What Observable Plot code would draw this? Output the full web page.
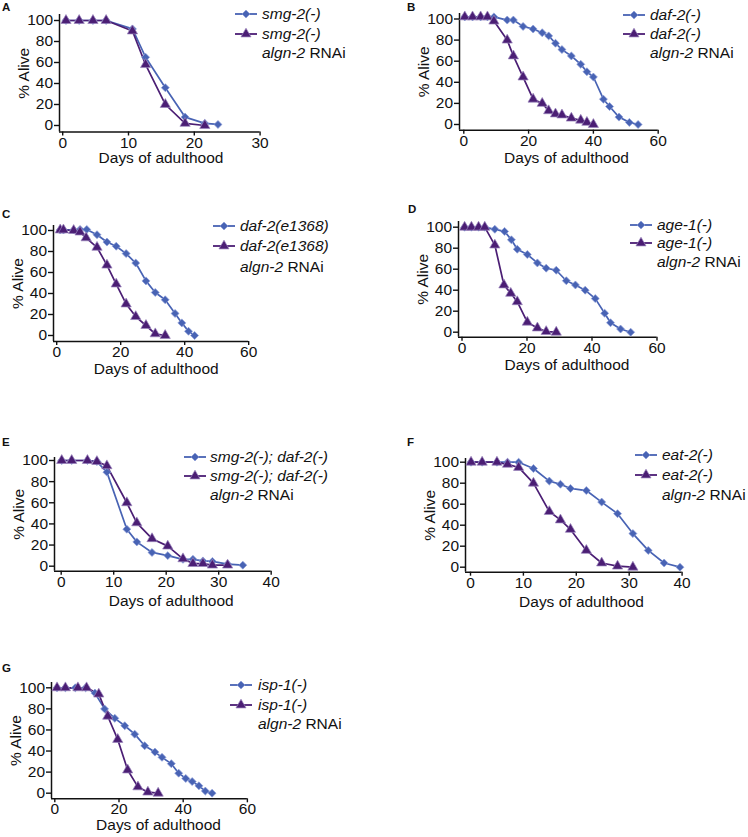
<!DOCTYPE html>
<html><head><meta charset="utf-8">
<script src="https://cdn.jsdelivr.net/npm/d3@7"></script>
<script src="https://cdn.jsdelivr.net/npm/@observablehq/plot@0.6"></script>
<style>
body{margin:0;background:#fff;}
#root{position:relative;width:748px;height:837px;overflow:hidden;font-family:"Liberation Sans",Arial,Helvetica,sans-serif;color:#111;}
.letter{position:absolute;font-weight:bold;font-size:11.5px;line-height:11.5px;}
.legtxt{position:absolute;font-size:15.5px;line-height:18px;white-space:nowrap;transform:translateY(-50%);}
.sw{position:absolute;}
</style></head><body><div id="root"></div>
<script>
// ---------- DATA ----------
const yTicks = [0, 20, 40, 60, 80, 100];

// Panel A
const aTicks = [0, 10, 20, 30];
const aCtrlName = "smg-2(-)";
const aCtrlDays = [0.5, 2.5, 4.6, 6.6, 10.6, 12.6, 15.6, 18.6, 21.6, 23.6];
const aCtrlAlive = [100, 100, 100, 100, 92, 65, 36, 8, 2, 1];
const aRnaiDays = [0.5, 2.5, 4.6, 6.6, 10.6, 12.6, 15.6, 18.6, 21.6];
const aRnaiAlive = [100, 100, 100, 100, 90, 58, 20, 2, 0];

// Panel B
const bTicks = [0, 20, 40, 60];
const bCtrlName = "daf-2(-)";
const bCtrlDays = [0.3, 2.7, 5.2, 7.3, 9.3, 13.4, 15.3, 18.3, 21.4, 24.2, 26.2, 28.3, 30.3, 33.2, 36.1, 38, 40, 43.1, 45, 47.9, 51.1, 53.8];
const bCtrlAlive = [102, 102, 102, 102, 102, 99, 99, 93, 90.5, 87, 84, 77, 71, 65, 57, 50, 45, 24, 17, 7, 2, 0];
const bRnaiDays = [0.3, 2.7, 5.2, 7.3, 9.3, 13.4, 15.3, 18.3, 21.4, 24.2, 26.2, 28.3, 30.3, 33.2, 36.1, 38, 40];
const bRnaiAlive = [102, 102, 102, 102, 98, 80, 65, 45, 24, 20, 13, 10, 9, 6, 4, 2, 0];

// Panel C
const cTicks = [0, 20, 40, 60];
const cCtrlName = "daf-2(e1368)";
const cCtrlDays = [1.1, 2.1, 5.3, 7.3, 9.4, 12.6, 15.7, 18.6, 21.7, 24.7, 27.9, 30.8, 33.9, 37, 39.1, 41.2, 43.1];
const cCtrlAlive = [100.5, 100.5, 100.5, 101, 101, 96, 89, 85, 78, 69, 52, 41, 34, 21, 12, 4, 0];
const cRnaiDays = [1.1, 2.1, 5.3, 7.3, 9.2, 12.6, 15.7, 18.6, 21.7, 24.7, 27.9, 30.8, 33.9];
const cRnaiAlive = [100.5, 100.5, 100, 98.5, 93, 84, 67, 49, 30, 18, 9.5, 1.6, 0];

// Panel D
const dTicks = [0, 20, 40, 60];
const dCtrlName = "age-1(-)";
const dCtrlDays = [0.8, 2.9, 5.1, 7, 10.1, 13.1, 15.2, 17, 20.1, 23.2, 25.9, 29, 32.1, 34.9, 37.9, 41, 43.9, 45.7, 48.8, 51.9];
const dCtrlAlive = [100, 100, 100, 100, 98, 96, 88, 79, 74, 66, 61, 59, 49, 45, 40, 32, 18, 9, 3, 0];
const dRnaiDays = [0.8, 2.9, 5.1, 7, 10.1, 12.9, 15, 17, 20.1, 23.2, 25.9, 29];
const dRnaiAlive = [100, 100, 100, 100, 83, 45, 37, 29, 9.5, 4, 0.6, 0];

// Panel E
const eTicks = [0, 10, 20, 30, 40];
const eCtrlName = "smg-2(-); daf-2(-)";
const eCtrlDays = [0.1, 2, 5, 6.8, 8.7, 12.5, 14.4, 17.3, 20.3, 23.2, 25.1, 27, 28.8, 31.7, 34.6];
const eCtrlAlive = [100, 100, 100, 99, 89, 35, 23, 13, 10, 6.5, 6.5, 5, 4.5, 2, 1];
const eRnaiDays = [0.1, 2, 5, 6.8, 8.7, 12.5, 14.4, 17.3, 20.3, 23.2, 25.1, 27, 28.8, 31.7];
const eRnaiAlive = [100, 100, 100, 99, 95, 60, 41, 26, 19, 7, 2.5, 2.5, 1, 1];

// Panel F
const fTicks = [0, 10, 20, 30, 40];
const fCtrlName = "eat-2(-)";
const fCtrlDays = [0.1, 2.2, 5, 7, 9.1, 11.9, 14.9, 17, 18.9, 21.9, 24.8, 27.8, 30.7, 33.6, 36.6, 39.6];
const fCtrlAlive = [100, 100, 100, 100, 100, 94, 82, 79, 75, 73, 62, 51, 32, 16, 4, 0];
const fRnaiDays = [0.1, 2.2, 5, 7, 9.1, 11.9, 14.9, 17, 18.9, 21.9, 24.8, 27.8, 30.7];
const fRnaiAlive = [100, 100, 100, 98, 95, 80, 53, 45, 36, 16, 4, 1, 0];

// Panel G
const gTicks = [0, 20, 40, 60];
const gCtrlName = "isp-1(-)";
const gCtrlDays = [0.7, 3.3, 6.4, 9.6, 12.5, 15.5, 18.7, 21.8, 24.9, 28, 31.2, 33.4, 36.3, 38.6, 40.8, 42.8, 44.9, 46.9, 49];
const gCtrlAlive = [100, 100, 100, 100, 95, 80, 71, 64, 56, 45, 39, 34, 28, 19, 14, 11, 7, 2, 0];
const gRnaiDays = [0.7, 3.3, 7.2, 9.9, 13.7, 16.5, 19.6, 22.7, 25.9, 29, 32.2];
const gRnaiAlive = [100, 100, 100, 100, 94, 73, 51, 22, 6, 1, 0];

const xTitle = "Days of adulthood";
const yTitle = "% Alive";
const rnaiName = "algn-2";
const rnaiSuffix = " RNAi";

// ---------- LAYOUT / STYLE ----------
const BLUE = "#4863b4", PURPLE = "#4b1e74";
const BLUE_EDGE = "#8f9fd8", PURPLE_EDGE = "#9b86bd";
const FONT = '"Liberation Sans", Arial, Helvetica, sans-serif';

const panels = [
  {id:"A", ticks:aTicks, ctrlName:aCtrlName, cd:aCtrlDays, ca:aCtrlAlive, rd:aRnaiDays, ra:aRnaiAlive,
   ax:58.5, x0:61.7, sx:6.58, y100:20, y0:125, bottom:131.5, top:14, xLab:160, xDy:26.5, letter:[2,12], leg:{sw:235, tx:262, rows:[14,34,53]}},
  {id:"B", ticks:bTicks, ctrlName:bCtrlName, cd:bCtrlDays, ca:bCtrlAlive, rd:bRnaiDays, ra:bRnaiAlive,
   ax:459, x0:463.3, sx:3.24, y100:18.5, y0:124, bottom:129.7, top:13, xLab:566, xDy:28, letter:[407,12], leg:{sw:623, tx:650, rows:[15,34,53]}},
  {id:"C", ticks:cTicks, ctrlName:cCtrlName, cd:cCtrlDays, ca:cCtrlAlive, rd:cRnaiDays, ra:cRnaiAlive,
   ax:53.3, x0:56.5, sx:3.2, y100:230, y0:335, bottom:341, top:225, xLab:156, xDy:28, letter:[2,218.5], leg:{sw:213, tx:240, rows:[226,246,267]}},
  {id:"D", ticks:dTicks, ctrlName:dCtrlName, cd:dCtrlDays, ca:dCtrlAlive, rd:dRnaiDays, ra:dRnaiAlive,
   ax:457.5, x0:461, sx:3.25, y100:226.7, y0:331.7, bottom:336.7, top:221, xLab:566, xDy:28, letter:[408,213.5], leg:{sw:630, tx:657, rows:[225,243,262]}},
  {id:"E", ticks:eTicks, ctrlName:eCtrlName, cd:eCtrlDays, ca:eCtrlAlive, rd:eRnaiDays, ra:eRnaiAlive,
   ax:54.3, x0:61, sx:5.25, y100:460, y0:565.7, bottom:570.7, top:457, xLab:171, xDy:30, letter:[2,447], leg:{sw:184, tx:210, rows:[457,476,495]}},
  {id:"F", ticks:fTicks, ctrlName:fCtrlName, cd:fCtrlDays, ca:fCtrlAlive, rd:fRnaiDays, ra:fRnaiAlive,
   ax:465, x0:470, sx:5.29, y100:461.7, y0:566.7, bottom:571.7, top:458, xLab:581, xDy:30, letter:[407,447], leg:{sw:635, tx:662, rows:[455,475,495]}},
  {id:"G", ticks:gTicks, ctrlName:gCtrlName, cd:gCtrlDays, ca:gCtrlAlive, rd:gRnaiDays, ra:gRnaiAlive,
   ax:51, x0:54.3, sx:3.21, y100:687.3, y0:792.7, bottom:798.3, top:682, xLab:158, xDy:26.5, letter:[2,673], leg:{sw:230, tx:258, rows:[685,705,724]}}
];

const root = document.getElementById("root");

function swatch(color, symbol, size, edge) {
  const ns = "http://www.w3.org/2000/svg";
  const svg = document.createElementNS(ns, "svg");
  svg.setAttribute("width", 24); svg.setAttribute("height", 14);
  svg.classList.add("sw");
  const line = document.createElementNS(ns, "line");
  line.setAttribute("x1", 0); line.setAttribute("x2", 22); line.setAttribute("y1", 7); line.setAttribute("y2", 7);
  line.setAttribute("stroke", color); line.setAttribute("stroke-width", 1.8);
  svg.appendChild(line);
  const p = document.createElementNS(ns, "path");
  p.setAttribute("d", d3.symbol(symbol, size)());
  p.setAttribute("transform", "translate(11,7)");
  p.setAttribute("fill", color); p.setAttribute("stroke", edge); p.setAttribute("stroke-width", 0.7);
  svg.appendChild(p);
  return svg;
}

for (const P of panels) {
  const ctrl = P.cd.map((d, i) => ({day: d, alive: P.ca[i]}));
  const rnai = P.rd.map((d, i) => ({day: d, alive: P.ra[i]}));
  const xEnd = P.ticks[P.ticks.length - 1];
  const xMin = (P.ax - P.x0) / P.sx;
  const right = P.x0 + P.sx * xEnd;
  const sy = (P.y0 - P.y100) / 100;
  const yMin = -(P.bottom - P.y0) / sy;
  const yMax = 100 + (P.y100 - P.top) / sy;
  const mL = 62, mR = 12, mT = 8, mB = 46;
  const width = mL + (right - P.ax) + mR;
  const height = mT + (P.bottom - P.top) + mB;
  const plot = Plot.plot({
    width, height, marginLeft: mL, marginRight: mR, marginTop: mT, marginBottom: mB,
    x: {domain: [xMin, xEnd]},
    y: {domain: [yMin, yMax]},
    style: {fontFamily: FONT, fontSize: "15.5px", background: "transparent", overflow: "visible", color: "#111"},
    marks: [
      Plot.axisX({ticks: P.ticks, tickSize: 4, tickPadding: 0.5, tickFormat: d => String(d), label: null, strokeWidth: 1.4}),
      Plot.axisY({ticks: yTicks, tickSize: 5, tickPadding: 1.5, tickFormat: d => String(d), label: null, strokeWidth: 1.4}),
      Plot.ruleY([yMin], {x1: xMin, x2: xEnd, stroke: "#111", strokeWidth: 1.5}),
      Plot.ruleX([xMin], {y1: yMin, y2: yMax, stroke: "#111", strokeWidth: 1.5}),
      Plot.line(ctrl, {x: "day", y: "alive", stroke: BLUE, strokeWidth: 1.7}),
      Plot.line(rnai, {x: "day", y: "alive", stroke: PURPLE, strokeWidth: 1.7}),
      Plot.dot(ctrl, {x: "day", y: "alive", symbol: "diamond2", r: 3.6, fill: BLUE, stroke: BLUE_EDGE, strokeWidth: 0.7}),
      Plot.dot(rnai, {x: "day", y: "alive", symbol: "triangle", r: 3.8, fill: PURPLE, stroke: PURPLE_EDGE, strokeWidth: 0.7}),
      Plot.text([yTitle], {text: d => d, frameAnchor: "left", textAnchor: "middle", lineAnchor: "middle", rotate: -90, dx: -35, fill: "#111"}),
      Plot.text([xTitle], {text: d => d, frameAnchor: "bottom", textAnchor: "middle", lineAnchor: "middle", dx: P.xLab - (P.ax + right) / 2, dy: P.xDy, fill: "#111"})
    ]
  });
  plot.style.position = "absolute";
  plot.style.left = (P.ax - mL) + "px";
  plot.style.top = (P.top - mT) + "px";
  root.appendChild(plot);

  const L = document.createElement("div");
  L.className = "letter";
  L.textContent = P.id;
  L.style.left = P.letter[0] + "px";
  L.style.top = (P.letter[1] - 9.7) + "px";
  root.appendChild(L);

  const lg = P.leg;
  const s1 = swatch(BLUE, d3.symbolDiamond2, 40, BLUE_EDGE);
  s1.style.left = lg.sw + "px"; s1.style.top = (lg.rows[0] - 7) + "px";
  root.appendChild(s1);
  const s2 = swatch(PURPLE, d3.symbolTriangle, 44, PURPLE_EDGE);
  s2.style.left = lg.sw + "px"; s2.style.top = (lg.rows[1] - 7) + "px";
  root.appendChild(s2);
  const t1 = document.createElement("div");
  t1.className = "legtxt"; t1.style.left = lg.tx + "px"; t1.style.top = lg.rows[0] + "px";
  t1.innerHTML = "<i>" + P.ctrlName + "</i>";
  root.appendChild(t1);
  const t2 = document.createElement("div");
  t2.className = "legtxt"; t2.style.left = lg.tx + "px"; t2.style.top = lg.rows[1] + "px";
  t2.innerHTML = "<i>" + P.ctrlName + "</i>";
  root.appendChild(t2);
  const t3 = document.createElement("div");
  t3.className = "legtxt"; t3.style.left = lg.tx + "px"; t3.style.top = lg.rows[2] + "px";
  t3.innerHTML = "<i>" + rnaiName + "</i>" + rnaiSuffix;
  root.appendChild(t3);
}
</script>
</body></html>
